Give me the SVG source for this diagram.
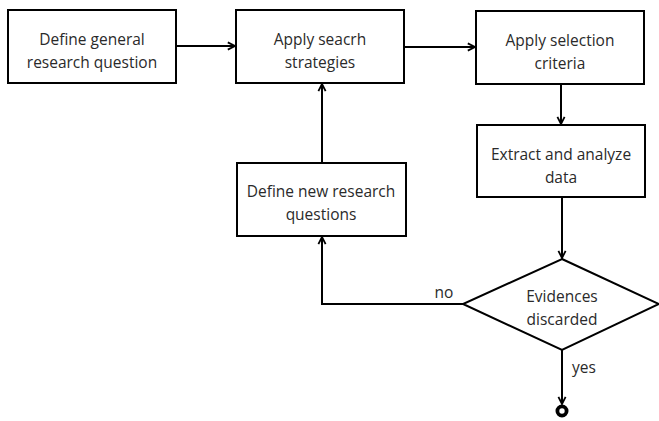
<svg xmlns="http://www.w3.org/2000/svg" width="659" height="421" viewBox="0 0 659 421">
<style>
.box{fill:#fff;stroke:#000;stroke-width:2}
.t{font-family:"Open Sans","Liberation Sans",sans-serif;font-size:15.5px;fill:#2a2a2a;text-anchor:middle}
.c{fill:none;stroke:#000;stroke-width:2}
</style>
<defs>
<marker id="ah" viewBox="0 0 10 10" refX="9" refY="5" markerWidth="9" markerHeight="10" orient="auto" markerUnits="userSpaceOnUse">
<path d="M1,1 L9,5 L1,9" fill="none" stroke="#000" stroke-width="2"/>
</marker>
</defs>
<rect width="659" height="421" fill="#fff"/>
<g id="connectors">
<path class="c" d="M176,46 L235,46" marker-end="url(#ah)"/>
<path class="c" d="M404,47 L475,47" marker-end="url(#ah)"/>
<path class="c" d="M561,84 L561,124" marker-end="url(#ah)"/>
<path class="c" d="M562,197 L562,258" marker-end="url(#ah)"/>
<path class="c" d="M463,304 L322,304 L322,237" marker-end="url(#ah)"/>
<path class="c" d="M322,163 L322,84" marker-end="url(#ah)"/>
<path class="c" d="M562,350 L562,404" marker-end="url(#ah)"/>
<text class="t" x="444" y="298">no</text>
<text class="t" x="584" y="373">yes</text>
</g>
<g id="n1"><rect class="box" x="8" y="10" width="168" height="73"/><text class="t" x="92" y="45">Define general</text><text class="t" x="92" y="68">research question</text></g>
<g id="n2"><rect class="box" x="236" y="10" width="168" height="73"/><text class="t" x="320" y="45">Apply seacrh</text><text class="t" x="320" y="68">strategies</text></g>
<g id="n3"><rect class="box" x="476" y="11" width="168" height="73"/><text class="t" x="560" y="46">Apply selection</text><text class="t" x="560" y="69">criteria</text></g>
<g id="n4"><rect class="box" x="477" y="125" width="168" height="72"/><text class="t" x="561" y="160">Extract and analyze</text><text class="t" x="561" y="183">data</text></g>
<g id="n5"><rect class="box" x="237" y="163" width="169" height="73"/><text class="t" x="321" y="197">Define new research</text><text class="t" x="321" y="220">questions</text></g>
<g id="n6"><polygon class="box" points="562,259 659,304 562,350 463,304"/><text class="t" x="562" y="302">Evidences</text><text class="t" x="562" y="325">discarded</text></g>
<g id="end"><circle cx="562" cy="411" r="4.6" fill="#fff" stroke="#000" stroke-width="3.8"/></g>
</svg>
